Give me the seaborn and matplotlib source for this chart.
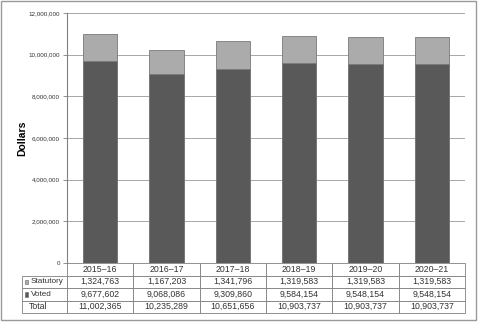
import matplotlib
matplotlib.use("Agg")
import matplotlib.pyplot as plt
import seaborn as sns
import numpy as np
from matplotlib.patches import Rectangle
from matplotlib.ticker import FuncFormatter

categories = ["2015–16", "2016–17", "2017–18", "2018–19", "2019–20", "2020–21"]
statutory = [1324763, 1167203, 1341796, 1319583, 1319583, 1319583]
voted = [9677602, 9068086, 9309860, 9584154, 9548154, 9548154]
total_labels = ["11,002,365", "10,235,289", "10,651,656", "10,903,737", "10,903,737", "10,903,737"]
series_names = ["Statutory", "Voted"]

dark = "#595959"
light = "#ababab"
edge = "#7a7a7a"

sns.set_theme(style="white")
plt.rcParams["font.family"] = ["Liberation Sans", "DejaVu Sans"]

fig = plt.figure(figsize=(4.8, 3.23), dpi=100)
ax = fig.add_axes([67/480, 1-263/323, 398/480, 250/323])

totals = [s + v for s, v in zip(statutory, voted)]
sns.barplot(x=categories, y=totals, color=light, saturation=1, width=0.52,
            edgecolor=edge, linewidth=0.6, ax=ax, zorder=3)
sns.barplot(x=categories, y=voted, color=dark, saturation=1, width=0.52,
            edgecolor=edge, linewidth=0.6, ax=ax, zorder=3)

ax.set_ylim(0, 12000000)
ax.set_xlim(-0.5, 5.5)
ax.set_yticks(np.arange(0, 12000001, 2000000))
ax.yaxis.set_major_formatter(FuncFormatter(lambda v, p: f"{int(v):,}"))
ax.tick_params(axis="y", labelsize=4.5, labelcolor="#333333", length=3, width=0.6,
               direction="out", pad=2, left=True, color="#808080")
ax.set_xticks([])
ax.set_xlabel("")
ax.grid(axis="y", color="#999999", linewidth=0.6, zorder=0)
ax.set_axisbelow(True)
for s in ["top", "right", "bottom"]:
    ax.spines[s].set_visible(False)
ax.spines["left"].set_color("#808080")
ax.spines["left"].set_linewidth(0.8)
ax.set_ylabel("Dollars", fontsize=7.5, fontweight="bold", labelpad=1, color="black")

# Table
cell_text = [[series_names[0]] + [f"{v:,}" for v in statutory],
             [series_names[1]] + [f"{v:,}" for v in voted],
             ["Total"] + total_labels]
col_labels = [""] + categories
lw_frac = 45/398
tbl = ax.table(cellText=cell_text, colLabels=col_labels, cellLoc="center",
               colWidths=[lw_frac] + [1/6]*6,
               bbox=[-lw_frac, -50/250, 1 + lw_frac, 50/250])
tbl.auto_set_font_size(False)
tbl.set_fontsize(6.3)
for (r, c), cell in tbl.get_celld().items():
    cell.set_edgecolor("#808080")
    cell.set_linewidth(0.6)
    cell.get_text().set_color("#333333")
    if r == 0 and c == 0:
        cell.set_visible(False)
    if c == 0 and r >= 1:
        cell._loc = "left"
        cell.get_text().set_ha("left")
        cell.PAD = 0.19 if r < 3 else 0.15
    if c == 0 and r in (1, 2):
        cell.get_text().set_fontsize(5.9)

# legend squares in row labels
row_h = 50/250/4
for i, col in enumerate([light, dark]):
    yc = -row_h*(1.5 + i)
    ax.add_patch(Rectangle((-42.5/398, yc - 0.009), 0.010, 0.018,
                           transform=ax.transAxes, facecolor=col,
                           edgecolor="#666666", linewidth=0.4, clip_on=False, zorder=5))

# outer border
fig.add_artist(Rectangle((1/480, 3/323), 475/480, 319/323, transform=fig.transFigure,
                         fill=False, edgecolor="#9a9a9a", linewidth=1.0))

fig.savefig("out.png", dpi=100)
